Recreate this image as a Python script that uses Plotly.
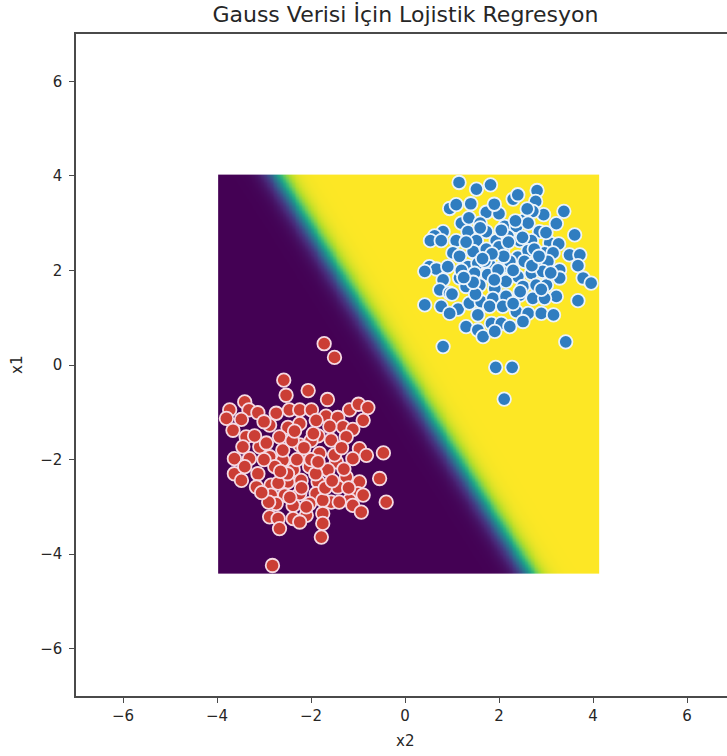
import numpy as np
import plotly.graph_objects as go

# ---- class 1 samples (blue), coordinates (x2, x1) ----
blue_x2 = [1.15, 1.52, 1.82, 2.81, 2.30, 1.40, 0.95, 1.09, 1.73, 3.38, 2.78, 2.95, 2.72, 2.54,
           3.22, 1.20, 1.36, 1.60, 1.34, 1.73, 2.12, 2.37, 2.62, 2.86, 3.61, 0.81, 0.63, 0.54,
           0.77, 1.09, 1.52, 1.94, 2.19, 2.44, 2.69, 3.08, 3.27, 1.02, 1.16, 1.45, 1.73, 2.08,
           2.40, 2.62, 2.97, 3.15, 3.50, 3.72, 0.52, 0.67, 0.42, 0.91, 1.34, 1.55, 1.80, 2.08,
           2.23, 2.54, 2.79, 3.04, 3.29, 3.68, 3.79, 3.96, 0.81, 1.16, 1.48, 1.76, 1.98, 2.40,
           2.69, 2.93, 3.29, 0.74, 0.95, 1.30, 1.59, 1.91, 2.15, 2.51, 2.79, 3.01, 3.22, 3.68,
           0.42, 0.77, 1.13, 1.37, 1.62, 1.87, 2.15, 2.44, 2.72, 2.97, 0.95, 1.55, 1.80, 2.08,
           2.37, 2.62, 2.90, 3.16, 1.30, 1.55, 1.84, 2.05, 2.23, 2.51, 1.66, 1.91, 0.81, 3.42,
           1.93, 2.28, 2.11,
           1.70, 2.00, 2.30, 1.90, 2.20, 1.60, 2.50, 2.00, 1.20, 2.70, 1.50, 2.30, 2.60, 1.90,
           1.00, 3.00, 2.40, 1.30, 2.90, 2.10, 1.85, 2.45, 1.45, 2.75, 2.05, 1.65, 2.35, 2.85,
           1.25, 3.10]
blue_x1 = [3.86, 3.72, 3.81, 3.69, 3.51, 3.41, 3.31, 3.39, 3.23, 3.25, 3.46, 3.18, 3.25, 3.07,
           2.99, 3.00, 3.11, 3.00, 2.82, 2.82, 2.93, 2.93, 3.00, 2.82, 2.75, 2.82, 2.73, 2.63,
           2.63, 2.63, 2.63, 2.63, 2.72, 2.63, 2.63, 2.58, 2.56, 2.37, 2.30, 2.40, 2.45, 2.44,
           2.28, 2.42, 2.37, 2.37, 2.33, 2.33, 2.08, 2.03, 1.98, 2.08, 2.08, 2.15, 2.12, 2.08,
           2.19, 2.19, 2.15, 2.19, 2.01, 2.10, 1.84, 1.73, 1.80, 1.84, 1.94, 1.91, 2.01, 1.87,
           1.94, 1.98, 1.84, 1.59, 1.52, 1.66, 1.69, 1.62, 1.77, 1.66, 1.69, 1.69, 1.45, 1.36,
           1.27, 1.24, 1.18, 1.31, 1.34, 1.41, 1.45, 1.48, 1.41, 1.41, 1.09, 1.06, 1.24, 1.24,
           1.13, 1.09, 1.09, 1.06, 0.81, 0.74, 0.88, 0.88, 0.81, 0.92, 0.60, 0.71, 0.39, 0.49,
           -0.05, -0.05, -0.72,
           2.20, 2.50, 2.00, 1.80, 2.60, 2.90, 2.70, 3.20, 2.00, 2.10, 1.50, 1.30, 3.30, 3.40,
           1.50, 2.80, 3.60, 2.60, 1.60, 2.30, 2.35, 1.55, 1.75, 2.45, 2.85, 2.25, 3.05, 2.30,
           1.85, 1.95]

# ---- class 0 samples (red), coordinates (x2, x1) ----
red_x2 = [-1.72, -1.50, -2.58, -2.53, -2.06, -1.65, -3.73, -3.41, -3.32, -3.13, -3.80, -3.48,
          -2.74, -2.46, -2.24, -1.99, -1.68, -1.43, -1.18, -0.99, -0.79, -3.66, -3.38, -2.88,
          -2.49, -2.24, -1.89, -1.32, -1.11, -0.89, -3.45, -3.09, -2.67, -2.24, -1.85, -1.57,
          -1.25, -0.97, -3.63, -3.31, -2.88, -2.60, -2.14, -1.82, -1.46, -1.11, -0.82, -0.46,
          -3.63, -3.41, -3.13, -2.77, -2.38, -2.03, -1.64, -1.25, -0.97, -0.54, -3.48, -3.16,
          -2.85, -2.49, -2.21, -1.85, -1.43, -1.00, -2.85, -2.56, -2.24, -1.89, -1.57, -1.18,
          -0.89, -2.74, -2.38, -2.03, -1.75, -1.11, -0.40, -2.88, -2.70, -2.38, -2.10, -1.75,
          -0.93, -2.67, -2.24, -1.75, -1.78, -2.82,
          -2.00, -2.30, -1.90, -2.60, -1.50, -2.20, -1.70, -2.50, -3.00, -1.30, -2.00, -2.70,
          -1.60, -2.40, -3.20, -1.20, -2.10, -1.40, -2.90, -3.00, -2.35, -1.95, -2.65, -1.55,
          -2.15, -3.05, -1.35, -2.45, -1.85, -2.95]
red_x1 = [0.45, 0.16, -0.32, -0.64, -0.54, -0.73, -0.95, -0.78, -0.95, -1.01, -1.13, -1.15,
          -1.02, -0.95, -0.95, -0.95, -1.08, -1.11, -0.95, -0.83, -0.90, -1.38, -1.52, -1.27,
          -1.32, -1.24, -1.17, -1.31, -1.36, -1.17, -1.73, -1.73, -1.52, -1.69, -1.50, -1.59,
          -1.52, -1.77, -1.98, -1.98, -1.94, -2.01, -1.94, -1.87, -2.05, -1.98, -1.91, -1.86,
          -2.30, -2.15, -2.30, -2.15, -2.22, -2.15, -2.22, -2.37, -2.47, -2.40, -2.44, -2.58,
          -2.54, -2.47, -2.44, -2.47, -2.58, -2.72, -2.75, -2.75, -2.72, -2.72, -2.90, -2.86,
          -2.75, -2.93, -2.97, -2.93, -2.86, -2.97, -2.90, -3.21, -3.25, -3.25, -3.18, -3.14,
          -3.11, -3.46, -3.32, -3.35, -3.64, -4.24,
          -1.60, -2.00, -2.30, -1.80, -1.90, -2.60, -2.60, -2.30, -2.00, -2.20, -2.00, -2.50,
          -1.30, -1.60, -1.50, -2.60, -3.00, -2.90, -2.90, -1.20, -1.40, -1.45, -2.25, -2.45,
          -1.75, -2.70, -1.75, -2.80, -2.05, -1.65]

# ---- fitted logistic model: p = sigmoid(w2*x2 + w1*x1 + b) ----
weight_x2 = 6.9
weight_x1 = 4.4
bias = 1.3

# extent of the evaluation mesh (x2 range, x1 range)
mesh_x2 = (-3.96, 4.12)
mesh_x1 = (-4.39, 4.01)

x_ticks = [-6, -4, -2, 0, 2, 4, 6]
y_ticks = [-6, -4, -2, 0, 2, 4, 6]

title_text = "Gauss Verisi İçin Lojistik Regresyon"
x_label = "x2"
y_label = "x1"

# probability surface over the mesh
n = 260
gx = np.linspace(mesh_x2[0], mesh_x2[1], n)
gy = np.linspace(mesh_x1[0], mesh_x1[1], n)
GX, GY = np.meshgrid(gx, gy)
prob = 1.0 / (1.0 + np.exp(-(weight_x2 * GX + weight_x1 * GY + bias)))

W, H = 727, 756
ml, mt, mb, mr = 76, 34, 60, 0
plot_w = W - ml - mr
plot_h = H - mt - mb
px_per_unit = 47.0
x_lo = -7.0
x_hi = x_lo + plot_w / px_per_unit

fig = go.Figure()

fig.add_trace(go.Heatmap(
    x=gx, y=gy, z=prob,
    colorscale="Viridis", zmin=0, zmax=1,
    showscale=False, zsmooth="best", hoverinfo="skip",
))

fig.add_trace(go.Scatter(
    x=red_x2, y=red_x1, mode="markers",
    marker=dict(size=13.5, color="#cb3e35", line=dict(color="#f5d9e2", width=1.8)),
    showlegend=False,
))
fig.add_trace(go.Scatter(
    x=blue_x2, y=blue_x1, mode="markers",
    marker=dict(size=13.5, color="#2f7dc0", line=dict(color="#eaf3fb", width=1.8)),
    showlegend=False,
))

text_col = "#262626"
axis_font = dict(family="DejaVu Sans", size=15, color=text_col)
line_col = "#4a4a4a"


def minus(v):
    return str(v).replace("-", "\u2212")


fig.update_xaxes(
    range=[x_lo, x_hi], tickvals=x_ticks, ticktext=[minus(v) for v in x_ticks],
    showgrid=False, zeroline=False, showline=True, linecolor=line_col, linewidth=1.5,
    mirror=True, ticks="outside", ticklen=5, tickwidth=1.2, tickcolor=line_col,
    tickfont=axis_font,
)
fig.update_yaxes(
    range=[-7, 7], tickvals=y_ticks, ticktext=[minus(v) for v in y_ticks],
    showgrid=False, zeroline=False, showline=True, linecolor=line_col, linewidth=1.5,
    mirror=False, ticks="outside", ticklen=5, tickwidth=1.2, tickcolor=line_col,
    tickfont=axis_font, ticklabelstandoff=4,
)

# horizontal centre of the full axes box (its right edge lies past the page)
axes_center_px = 405.4

fig.update_layout(
    width=W, height=H,
    margin=dict(l=ml, r=mr, t=mt, b=mb, pad=0),
    paper_bgcolor="white", plot_bgcolor="white",
    title=dict(text=title_text, x=axes_center_px / W, xref="container", xanchor="center",
               y=1 - 14 / H, yref="container", yanchor="middle",
               font=dict(family="DejaVu Sans", size=22, color=text_col)),
    annotations=[
        dict(text=x_label, xref="paper", yref="paper",
             x=(axes_center_px - ml) / plot_w, y=(H - mb - 741) / plot_h,
             showarrow=False, font=dict(family="DejaVu Sans", size=15, color=text_col),
             xanchor="center", yanchor="middle"),
        dict(text=y_label, xref="paper", yref="paper",
             x=(17 - ml) / plot_w, y=0.5, textangle=-90,
             showarrow=False, font=dict(family="DejaVu Sans", size=15, color=text_col),
             xanchor="center", yanchor="middle"),
    ],
)

fig.write_html("out.html")
